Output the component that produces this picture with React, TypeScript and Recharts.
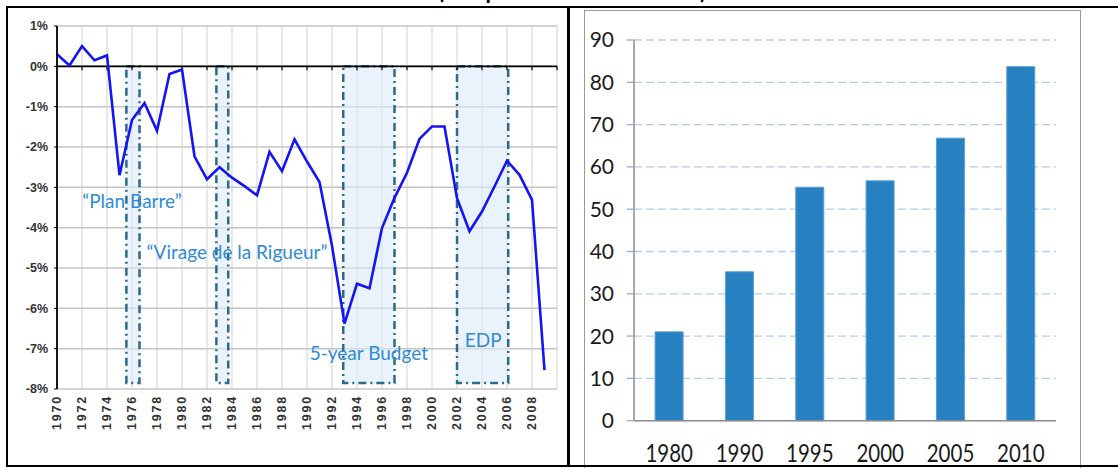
import {
  LineChart,
  Line,
  XAxis,
  YAxis,
  CartesianGrid,
  ReferenceLine,
  ReferenceArea,
  ReferenceDot,
  BarChart,
  Bar,
} from 'recharts';

// left panel: general government balance, % of GDP
const YEARS = [
  1970, 1971, 1972, 1973, 1974, 1975, 1976, 1977, 1978, 1979,
  1980, 1981, 1982, 1983, 1984, 1985, 1986, 1987, 1988, 1989,
  1990, 1991, 1992, 1993, 1994, 1995, 1996, 1997, 1998, 1999,
  2000, 2001, 2002, 2003, 2004, 2005, 2006, 2007, 2008, 2009,
];
const BALANCE = [
  0.3, 0.02, 0.5, 0.15, 0.27, -2.7, -1.33, -0.91, -1.6, -0.19,
  -0.08, -2.23, -2.8, -2.5, -2.76, -2.97, -3.2, -2.12, -2.6, -1.81,
  -2.36, -2.87, -4.45, -6.38, -5.39, -5.5, -4.01, -3.26, -2.64, -1.8,
  -1.49, -1.49, -3.27, -4.09, -3.6, -2.98, -2.34, -2.69, -3.31, -7.53,
];
const YEAR_TICKS = [
  1970, 1972, 1974, 1976, 1978, 1980, 1982, 1984, 1986, 1988, 1990,
  1992, 1994, 1996, 1998, 2000, 2002, 2004, 2006, 2008, 2010,
];
const PCT_TICKS = [-8, -7, -6, -5, -4, -3, -2, -1, 0, 1];

// consolidation episodes (shaded boxes)
const PERIOD_START = [1975.55, 1982.75, 1992.9, 2002.0];
const PERIOD_END = [1976.6, 1983.7, 1997.0, 2006.1];
const PERIOD_FLOOR = -7.85;

const NOTE_TEXT = ['“Plan Barre”', '“Virage de la Rigueur”', '5-year Budget', 'EDP'];
const NOTE_YEAR = [1976.0, 1984.4, 1994.95, 2004.1];
const NOTE_PCT = [-3.33, -4.59, -7.09, -6.77];

// right panel
const BAR_YEARS = ['1980', '1990', '1995', '2000', '2005', '2010'];
const BAR_VALUES = [21.0, 35.2, 55.2, 56.7, 66.8, 83.7];
const BAR_TICKS = [0, 10, 20, 30, 40, 50, 60, 70, 80, 90];
const BAR_EDGES = [0, 1, 2, 3, 4, 5, 6];

const balanceData = YEARS.map((year, i) => ({ year, balance: BALANCE[i] }));
const barData = BAR_YEARS.map((year, i) => ({ year, value: BAR_VALUES[i] }));

const NOTE_BLUE = '#2f8bd3';
const BOX_BLUE = '#2c6a8c';

function YearTick(props: any) {
  const { x, y, payload } = props;
  if (payload.value === 2010) return <g />;
  return (
    <text
      x={x}
      y={y}
      transform={`rotate(-90 ${x} ${y})`}
      textAnchor="end"
      dominantBaseline="central"
      fontFamily="'Liberation Sans', Arial, sans-serif"
      fontWeight="bold"
      fontSize={12.5}
      letterSpacing={1.8}
      fill="#333"
    >
      {payload.value}
    </text>
  );
}

// the source picture is a bit stretched vertically, so the labels are too
function BarYearTick(props: any) {
  const { x, y, payload } = props;
  return (
    <g transform={`translate(${x},${y}) scale(1,1.18)`}>
      <text
        x={0}
        y={26.5}
        textAnchor="middle"
        fontFamily="Lato, sans-serif"
        fontSize={20.5}
        fill="#1a1a1a"
      >
        {payload.value}
      </text>
    </g>
  );
}

function BalanceChart() {
  return (
    <LineChart
      width={570}
      height={466}
      data={balanceData}
      margin={{ top: 26, right: 13, bottom: 0, left: 7 }}
    >
      <CartesianGrid horizontal={false} stroke="#e1e1e1" strokeWidth={1.5} />
      <CartesianGrid vertical={false} stroke="#c4c4c4" strokeWidth={1.5} />
      <XAxis
        dataKey="year"
        type="number"
        domain={[1970, 2010]}
        ticks={YEAR_TICKS}
        interval={0}
        axisLine={false}
        tickLine={false}
        tickSize={0}
        tickMargin={6}
        height={77}
        tick={<YearTick />}
      />
      <YAxis
        type="number"
        domain={[-8, 1]}
        ticks={PCT_TICKS}
        interval={0}
        width={50}
        tickFormatter={(v: number) => `${v}%`}
        axisLine={{ stroke: '#000', strokeWidth: 1.8 }}
        tickLine={{ stroke: '#000' }}
        tickSize={3}
        tickMargin={6}
        tick={{
          fill: '#333',
          fontSize: 12.5,
          fontWeight: 'bold',
          fontFamily: "'Liberation Sans', Arial, sans-serif",
        }}
      />
      {PERIOD_START.map((x1, i) => (
        <ReferenceArea
          key={`p${i}`}
          x1={x1}
          x2={PERIOD_END[i]}
          y1={PERIOD_FLOOR}
          y2={0}
          fill="#dcebf8"
          fillOpacity={0.6}
          stroke={BOX_BLUE}
          strokeWidth={2.5}
          strokeDasharray="8 4 2 4"
        />
      ))}
      <ReferenceLine y={0} stroke="#000" strokeWidth={1.8} />
      {YEAR_TICKS.slice(1).map((yr) => (
        <ReferenceLine
          key={`t${yr}`}
          segment={[
            { x: yr, y: 0 },
            { x: yr, y: -0.1 },
          ]}
          stroke="#000"
          strokeWidth={1.2}
        />
      ))}
      <Line
        dataKey="balance"
        type="linear"
        stroke="#1414f5"
        strokeWidth={2.6}
        dot={false}
        isAnimationActive={false}
      />
      {NOTE_TEXT.map((text, i) => (
        <ReferenceDot
          key={`n${i}`}
          x={NOTE_YEAR[i]}
          y={NOTE_PCT[i]}
          r={1}
          shape={(p: any) => (
            <text
              x={p.cx}
              y={p.cy}
              textAnchor="middle"
              dominantBaseline="central"
              fontFamily="Lato, 'Open Sans', sans-serif"
              fontSize={19}
              fill={NOTE_BLUE}
            >
              {text}
            </text>
          )}
        />
      ))}
    </LineChart>
  );
}

function DebtChart() {
  return (
    <BarChart
      width={497}
      height={466}
      data={barData}
      margin={{ top: 30, right: 25, bottom: 10, left: 0 }}
      barCategoryGap="30%"
    >
      <CartesianGrid
        vertical={false}
        xAxisId="axisB"
        stroke="#b3cdef"
        strokeWidth={1.3}
        strokeDasharray="8 4"
      />
      <XAxis
        xAxisId="axisB"
        dataKey="year"
        height={35.3}
        axisLine={false}
        tickLine={false}
        tickSize={0}
        tickMargin={0}
        interval={0}
        tick={<BarYearTick />}
      />
      <XAxis
        xAxisId="axisA"
        type="number"
        domain={[0, 6]}
        ticks={BAR_EDGES}
        interval={0}
        allowDataOverflow
        height={10}
        tick={false}
        tickSize={10}
        axisLine={{ stroke: '#8c8c8c', strokeWidth: 1.5 }}
        tickLine={{ stroke: '#8c8c8c', strokeWidth: 1.5 }}
      />
      <YAxis
        type="number"
        domain={[0, 90]}
        ticks={BAR_TICKS}
        interval={0}
        width={50}
        axisLine={{ stroke: '#8c8c8c', strokeWidth: 1.5 }}
        tickLine={{ stroke: '#9aa9bf', strokeWidth: 1.3 }}
        tickSize={7}
        tickMargin={13}
        tick={{ fill: '#1a1a1a', fontSize: 21, fontFamily: 'Lato, sans-serif' }}
      />
      <Bar
        xAxisId="axisB"
        dataKey="value"
        fill="#2780c0"
        stroke="#5b9fd3"
        strokeWidth={1}
        isAnimationActive={false}
      />
    </BarChart>
  );
}

export default function App() {
  return (
    <div
      style={{
        position: 'fixed',
        left: 0,
        top: 0,
        width: 1118,
        height: 468,
        overflow: 'hidden',
        background: '#fff',
      }}
    >
      <svg width={1118} height={10} style={{ position: 'absolute', left: 0, top: 0 }}>
        <text
          x={438}
          y={-1.5}
          fontFamily="Lato, sans-serif"
          fontWeight="bold"
          fontSize={22}
          textLength={268}
          lengthAdjust="spacing"
          fill="#000"
        >
          (in percent of GDP)
        </text>
      </svg>
      <div style={{ position: 'absolute', left: 0, top: 0 }}>
        <BalanceChart />
      </div>
      <div
        style={{
          position: 'absolute',
          left: 584,
          top: 10,
          width: 497,
          height: 470,
          boxSizing: 'border-box',
          border: '1.5px solid #999',
        }}
      />
      <div style={{ position: 'absolute', left: 584, top: 10, height: 458, overflow: 'hidden' }}>
        <DebtChart />
      </div>
      {/* outer table frame */}
      <div
        style={{
          position: 'absolute',
          left: 6,
          top: 6,
          width: 1130,
          height: 461,
          boxSizing: 'border-box',
          borderTop: '2.5px solid #000',
          borderLeft: '2.5px solid #000',
          borderBottom: '2.5px solid #000',
        }}
      />
      <div
        style={{
          position: 'absolute',
          left: 567,
          top: 6,
          width: 2.5,
          height: 461,
          background: '#000',
        }}
      />
    </div>
  );
}
